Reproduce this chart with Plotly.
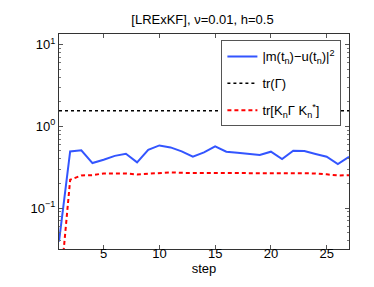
import plotly.graph_objects as go

steps = list(range(1, 28))
err = [0.039, 0.494, 0.51, 0.356, 0.39, 0.436, 0.462, 0.363, 0.517, 0.585,
       0.553, 0.494, 0.425, 0.48, 0.569, 0.49, 0.475, 0.458, 0.446, 0.49,
       0.398, 0.503, 0.50, 0.46, 0.425, 0.346, 0.425]
tr_gamma = [1.55] * 27
tr_kgk = [0.0074, 0.222, 0.251, 0.253, 0.266, 0.265, 0.265, 0.258, 0.262, 0.265,
          0.274, 0.27, 0.27, 0.27, 0.27, 0.268, 0.268, 0.268, 0.267, 0.267,
          0.268, 0.268, 0.268, 0.266, 0.259, 0.251, 0.253]

ytickvals = [0.1, 1, 10]
yticktext = ["10<sup>−1</sup>", "10<sup>0</sup>", "10<sup>1</sup>"]
xtickvals = [5, 10, 15, 20, 25]

fig = go.Figure()
fig.add_trace(go.Scatter(x=steps, y=err, mode="lines", legendgroup="a",
                         line=dict(color="#3355ff", width=2),
                         name="|m(t<sub>n</sub>)−u(t<sub>n</sub>)|<sup>2</sup>"))
fig.add_trace(go.Scatter(x=steps, y=tr_gamma, mode="lines", legendgroup="b",
                         line=dict(color="black", width=1.5, dash="3px,3px"),
                         name="tr(Γ)"))
fig.add_trace(go.Scatter(x=steps, y=tr_kgk, mode="lines", legendgroup="c",
                         line=dict(color="#ff0000", width=2, dash="4px,3px"),
                         name="tr[K<sub>n</sub>Γ K<sub>n</sub><sup>*</sup>]"))

axis_common = dict(showline=True, linecolor="#333333", linewidth=1, mirror="allticks",
                   ticks="inside", ticklen=4, tickcolor="#555555", tickwidth=0.8,
                   showgrid=False, zeroline=False, tickfont=dict(size=13, color="black"))

fig.update_layout(
    width=374, height=287,
    margin=dict(l=51, r=33, t=26, b=46),
    paper_bgcolor="white", plot_bgcolor="white",
    font=dict(family="Liberation Sans, Arial, sans-serif", size=12, color="black"),
    title=dict(text="[LRExKF], ν=0.01, h=0.5", x=0.52, xanchor="center", y=0.96,
               yanchor="middle", font=dict(size=13)),
    xaxis=dict(range=[1, 27], tickvals=xtickvals, ticklabelstandoff=-8,
               title=dict(text="step", standoff=0, font=dict(size=13)), **axis_common),
    yaxis=dict(type="log", range=[-1.5, 1.13], tickvals=ytickvals, ticktext=yticktext,
               minor=dict(ticks="inside", ticklen=2, tickcolor="#777777", tickwidth=0.6,
                          dtick="D1", showgrid=False),
               **axis_common),
    legend=dict(x=0.56, y=0.97, xanchor="left", yanchor="top",
                bgcolor="white", bordercolor="#555555", borderwidth=1,
                font=dict(size=13), tracegroupgap=7),
    showlegend=True,
)

fig.write_html("out.html")
